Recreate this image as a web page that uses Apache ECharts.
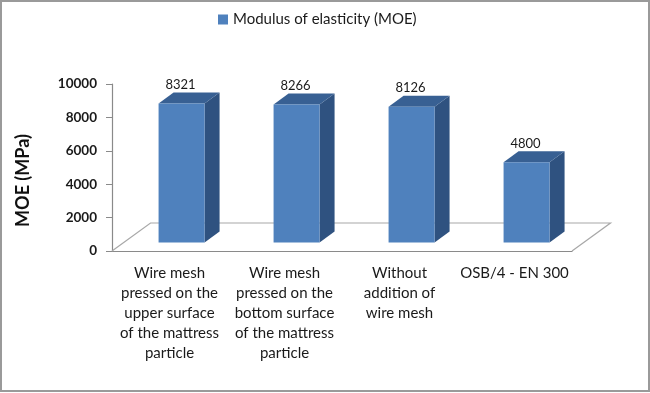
<!DOCTYPE html>
<html>
<head>
<meta charset="utf-8">
<style>html,body{margin:0;padding:0;background:#fff}#c{width:650px;height:393px}</style>
<script src="https://cdn.jsdelivr.net/npm/echarts@6/dist/echarts.min.js"></script>
</head>
<body>
<div id="c"></div>
<script>
var categories = [
  "Wire mesh\npressed on the\nupper surface\nof the mattress\nparticle",
  "Wire mesh\npressed on the\nbottom surface\nof the mattress\nparticle",
  "Without\naddition of\nwire mesh",
  "OSB/4 - EN 300"
];
var moeValues = [8321, 8266, 8126, 4800];
var seriesName = "Modulus of elasticity (MOE)";
var yTitle = "MOE (MPa)";

var FONT = "Lato, 'Open Sans', sans-serif";
var chart = echarts.init(document.getElementById('c'), null, {renderer: 'canvas'});

function renderFloor(params, api) {
  var band = api.size([1, 0])[0];
  var first = api.coord([0, 0]), last = api.coord([categories.length - 1, 0]);
  var ax = first[0] - band / 2, bx = last[0] + band / 2, y = first[1];
  var dx = 38.5, dy = -28;
  return {
    type: 'polyline',
    shape: {points: [[ax, y], [ax + dx, y + dy], [bx + dx, y + dy], [bx, y]]},
    style: {stroke: '#a8a8a8', lineWidth: 1.2, fill: 'none'},
    silent: true
  };
}

function renderBar(params, api) {
  var i = api.value(0), v = api.value(1);
  var band = api.size([1, 0])[0];
  var w = band * 0.4, shift = band * 0.105, lift = -8.5;
  var dx = 15, dy = -11;
  var top = api.coord([i, v]), base = api.coord([i, 0]);
  var x0 = top[0] + shift - w / 2, x1 = x0 + w;
  var yT = top[1] + lift, yB = base[1] + lift;
  return {
    type: 'group',
    children: [
      {type: 'polygon', shape: {points: [[x1, yT], [x1 + dx, yT + dy], [x1 + dx, yB + dy], [x1, yB]]},
       style: {fill: '#2f5280'}},
      {type: 'polygon', shape: {points: [[x0, yT], [x0 + dx, yT + dy], [x1 + dx, yT + dy], [x1, yT]]},
       style: {fill: '#386093'}},
      {type: 'rect', shape: {x: x0, y: yT, width: w, height: yB - yT},
       style: {fill: '#4f81bd'}},
      {type: 'text', x: x0 + w / 2 - 1, y: yT + dy - 1,
       style: {text: String(v), fill: '#1a1a1a', font: '13px ' + FONT, textAlign: 'center', textVerticalAlign: 'bottom'}}
    ]
  };
}

chart.setOption({
  animation: false,
  backgroundColor: '#ffffff',
  legend: {
    top: 7, left: 213,
    data: [{name: seriesName, icon: 'rect'}],
    itemWidth: 10, itemHeight: 10, itemGap: 4,
    textStyle: {fontFamily: FONT, fontSize: 15, color: '#1a1a1a'}
  },
  grid: {left: 112, right: 78, top: 84, bottom: 142, containLabel: false, outerBoundsMode: 'none'},
  xAxis: {
    type: 'category',
    data: categories,
    axisLine: {lineStyle: {color: '#8a8a8a', width: 1.2}},
    axisTick: {length: 5, alignWithLabel: false, lineStyle: {color: '#8a8a8a'}},
    axisLabel: {interval: 0, margin: 12, lineHeight: 20, fontFamily: FONT, fontSize: 15, color: '#1a1a1a'}
  },
  yAxis: {
    type: 'value', min: 0, max: 10000, interval: 2000,
    name: yTitle, nameLocation: 'middle', nameGap: 80,
    nameTextStyle: {fontFamily: FONT, fontWeight: 'bold', fontSize: 18, color: '#111111', padding: [0, 26, 0, 0]},
    axisLine: {show: true, lineStyle: {color: '#8a8a8a', width: 1.2}},
    axisTick: {show: true, length: 6, lineStyle: {color: '#8a8a8a'}},
    splitLine: {show: false},
    axisLabel: {margin: 15, fontFamily: FONT, fontSize: 13.5, fontWeight: 'bold', color: '#1a1a1a',
      formatter: function (v) { return String(v); }}
  },
  graphic: [{
    type: 'rect', silent: true, z: 100,
    shape: {x: 1, y: 1, width: 648, height: 390},
    style: {fill: 'none', stroke: '#9a9a9a', lineWidth: 2}
  }],
  series: [
    {type: 'custom', name: 'floor', coordinateSystem: 'cartesian2d', silent: true, z: 1, clip: false,
     renderItem: renderFloor, data: [[0, 0]], encode: {x: 0, y: 1}},
    {type: 'custom', name: seriesName, coordinateSystem: 'cartesian2d', z: 2, clip: false,
     itemStyle: {color: '#4f81bd'},
     renderItem: renderBar,
     data: moeValues.map(function (v, i) { return [i, v]; }),
     encode: {x: 0, y: 1}}
  ]
});
</script>
</body>
</html>
